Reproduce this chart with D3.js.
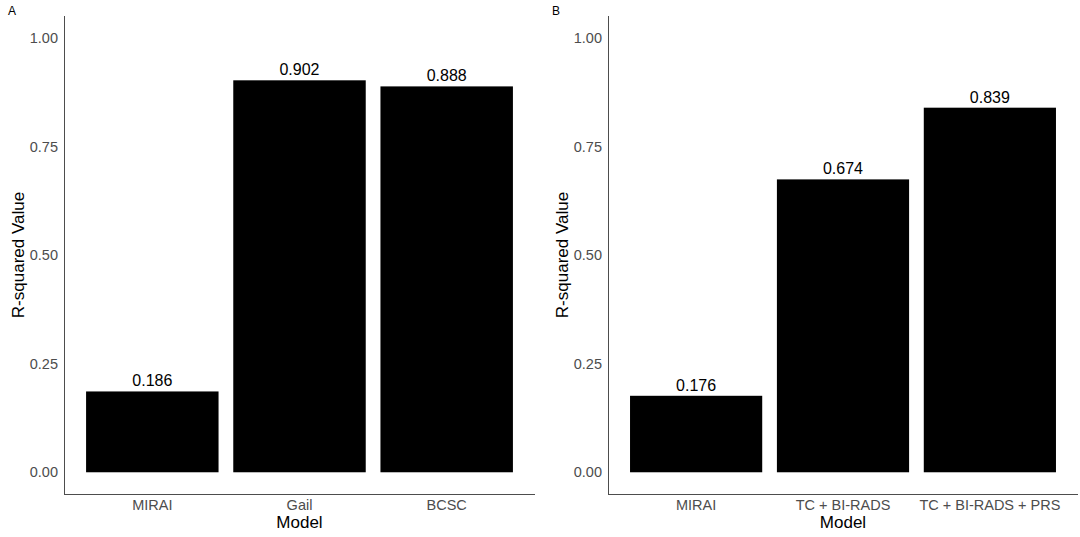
<!DOCTYPE html>
<html>
<head>
<meta charset="utf-8">
<script src="https://cdn.jsdelivr.net/npm/d3@7"></script>
<style>
  body { margin: 0; background: #fff; }
  svg { display: block; font-family: "Liberation Sans", Arial, sans-serif; }
</style>
</head>
<body>
<svg id="chart" width="1080" height="537"></svg>
<script>
// data for the two panels
const modelsA = ["MIRAI", "Gail", "BCSC"];
const valuesA = [0.186, 0.902, 0.888];
const modelsB = ["MIRAI", "TC + BI-RADS", "TC + BI-RADS + PRS"];
const valuesB = [0.176, 0.674, 0.839];
const yTicks = [0, 0.25, 0.5, 0.75, 1.0];

const svg = d3.select("#chart");

function drawPanel(tag, left, right, models, values) {
    const g = svg.append("g");
    const top = 16, bottom = 494;

    // y scale with ggplot-style 5% expansion
    const y = d3.scaleLinear().domain([-0.05, 1.05]).range([bottom, top]);
    // 0.6 units of expansion each side, bar width 0.9
    const x = d3.scaleBand()
        .domain(models)
        .range([left, right])
        .paddingInner(0.1)
        .paddingOuter(0.15);

    // panel tag
    g.append("text")
        .attr("x", left - 56)
        .attr("y", 15)
        .attr("font-size", 12)
        .attr("fill", "#000")
        .text(tag);

    // bars
    g.selectAll("rect")
        .data(values)
        .enter().append("rect")
        .attr("x", (d, i) => x(models[i]))
        .attr("width", x.bandwidth())
        .attr("y", d => y(d))
        .attr("height", d => y(0) - y(d))
        .attr("fill", "#000");

    // value labels
    g.selectAll(".val")
        .data(values)
        .enter().append("text")
        .attr("class", "val")
        .attr("x", (d, i) => x(models[i]) + x.bandwidth() / 2)
        .attr("y", d => y(d) - 5)
        .attr("text-anchor", "middle")
        .attr("font-size", 16)
        .attr("fill", "#000")
        .text(d => d3.format(".3f")(d));

    // y axis
    const yAxis = g.append("g")
        .attr("transform", `translate(${left},0)`)
        .call(d3.axisLeft(y).tickValues(yTicks).tickFormat(d3.format(".2f")).tickSize(0).tickPadding(6));
    yAxis.select(".domain").attr("stroke", "#4d4d4d").attr("d", `M0.5,${top}V${bottom}`);
    yAxis.selectAll("text").attr("font-size", 14.5).attr("fill", "#4d4d4d")
        .attr("font-family", "'Liberation Sans', Arial, sans-serif");

    // x axis
    const xAxis = g.append("g")
        .attr("transform", `translate(0,${bottom})`)
        .call(d3.axisBottom(x).tickSize(0).tickPadding(6));
    xAxis.select(".domain").attr("stroke", "#4d4d4d").attr("d", `M${left},0.5H${right}`);
    xAxis.selectAll("text").attr("font-size", 14.5).attr("fill", "#4d4d4d")
        .attr("font-family", "'Liberation Sans', Arial, sans-serif");

    // axis titles
    g.append("text")
        .attr("x", (left + right) / 2)
        .attr("y", 528)
        .attr("text-anchor", "middle")
        .attr("font-size", 17)
        .attr("fill", "#000")
        .text("Model");

    g.append("text")
        .attr("transform", `translate(${left - 40},${(top + bottom) / 2}) rotate(-90)`)
        .attr("text-anchor", "middle")
        .attr("font-size", 17)
        .attr("fill", "#000")
        .text("R-squared Value");
}

drawPanel("A", 64, 535, modelsA, valuesA);
drawPanel("B", 608, 1078, modelsB, valuesB);
</script>
</body>
</html>
